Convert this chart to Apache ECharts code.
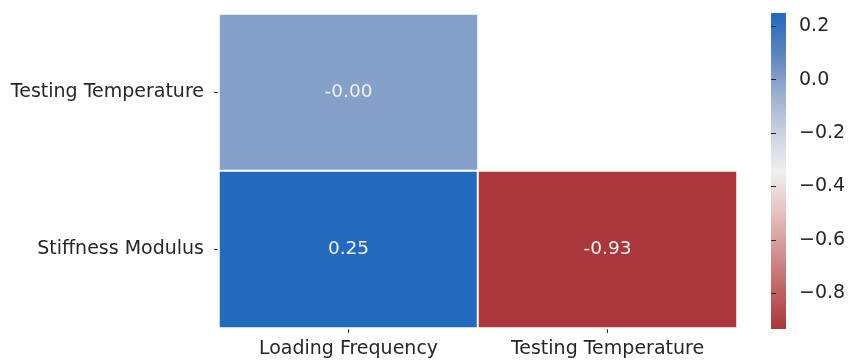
<!DOCTYPE html>
<html>
<head>
<meta charset="utf-8">
<script src="https://cdn.jsdelivr.net/npm/echarts@6/dist/echarts.min.js"></script>
<style>
  html, body { margin: 0; padding: 0; background: #ffffff; }
  #chart { width: 849px; height: 362px; }
</style>
</head>
<body>
<div id="chart"></div>
<script>
// Column and row categories of the lower-triangle correlation matrix
const xCategories = ['Loading Frequency', 'Testing Temperature'];
const yCategories = ['Stiffness Modulus', 'Testing Temperature']; // bottom to top

// Correlation values: [column index, row index, r]
const corrValues = [
  [0, 1, -0.004],
  [0, 0, 0.25],
  [1, 0, -0.934]
];

// Colour scale range and colour-bar tick labels
const scaleMin = -0.934;
const scaleMax = 0.25;
const colorbarTicks = [-0.8, -0.6, -0.4, -0.2, 0.0, 0.2];

// Diverging red-white-blue palette, listed from the low end to the high end
const palette = ['#a9373b', '#bf6466', '#d39492', '#e7c4c2', '#f1eff0',
                 '#c8d0e1', '#98adcd', '#5a82c0', '#2369bd'];

const FONT = 'DejaVu Sans';
const TEXT = '#262626';

// Colour-bar geometry
const bar = { x: 771, y: 13, w: 15, h: 316 };

const chart = echarts.init(document.getElementById('chart'), null, { renderer: 'canvas' });

// Gradient for the colour bar: high end at the top
const barStops = palette.slice().reverse().map((c, i, arr) => ({ offset: i / (arr.length - 1), color: c }));

chart.setOption({
  backgroundColor: '#ffffff',
  animation: false,
  textStyle: { fontFamily: FONT },
  grid: [
    { left: 219, top: 14, width: 518, height: 314 },
    { left: bar.x, top: bar.y, width: bar.w, height: bar.h }
  ],
  graphic: [{
    type: 'rect',
    silent: true,
    shape: { x: bar.x, y: bar.y, width: bar.w, height: bar.h },
    style: {
      fill: { type: 'linear', x: 0, y: 0, x2: 0, y2: 1, colorStops: barStops }
    },
    z: 0
  }],
  xAxis: [
    {
      type: 'category', gridIndex: 0, data: xCategories,
      axisLine: { show: false },
      axisTick: { show: true, alignWithLabel: true, length: 5, lineStyle: { color: TEXT, width: 1 } },
      axisLabel: { color: TEXT, fontFamily: FONT, fontSize: 19, margin: 12 },
      splitLine: { show: false }
    },
    { type: 'value', gridIndex: 1, show: false, min: 0, max: 1 }
  ],
  yAxis: [
    {
      type: 'category', gridIndex: 0, data: yCategories,
      axisLine: { show: false },
      axisTick: { show: true, alignWithLabel: true, length: 5, lineStyle: { color: TEXT, width: 1 } },
      axisLabel: { color: TEXT, fontFamily: FONT, fontSize: 19, margin: 15 },
      splitLine: { show: false }
    },
    {
      type: 'value', gridIndex: 1, position: 'right',
      min: scaleMin, max: scaleMax,
      axisLine: { show: false },
      splitLine: { show: false },
      axisTick: { show: true, length: 5, customValues: colorbarTicks, lineStyle: { color: TEXT, width: 1 } },
      axisLabel: {
        show: true, customValues: colorbarTicks, margin: 13,
        color: TEXT, fontFamily: FONT, fontSize: 19,
        formatter: v => v.toFixed(1).replace('-', '\u2212')
      }
    }
  ],
  visualMap: {
    type: 'continuous',
    show: false,
    seriesIndex: 0,
    min: scaleMin, max: scaleMax,
    inRange: { color: palette }
  },
  series: [
    {
      type: 'heatmap',
      xAxisIndex: 0, yAxisIndex: 0,
      data: corrValues,
      itemStyle: { borderColor: '#ffffff', borderWidth: 2 },
      label: {
        show: true, color: '#eeeeee', fontFamily: FONT, fontSize: 18.5,
        formatter: p => p.value[2].toFixed(2)
      },
      emphasis: { disabled: true }
    },
    {
      type: 'line', xAxisIndex: 1, yAxisIndex: 1, data: [], silent: true
    }
  ]
});
</script>
</body>
</html>
